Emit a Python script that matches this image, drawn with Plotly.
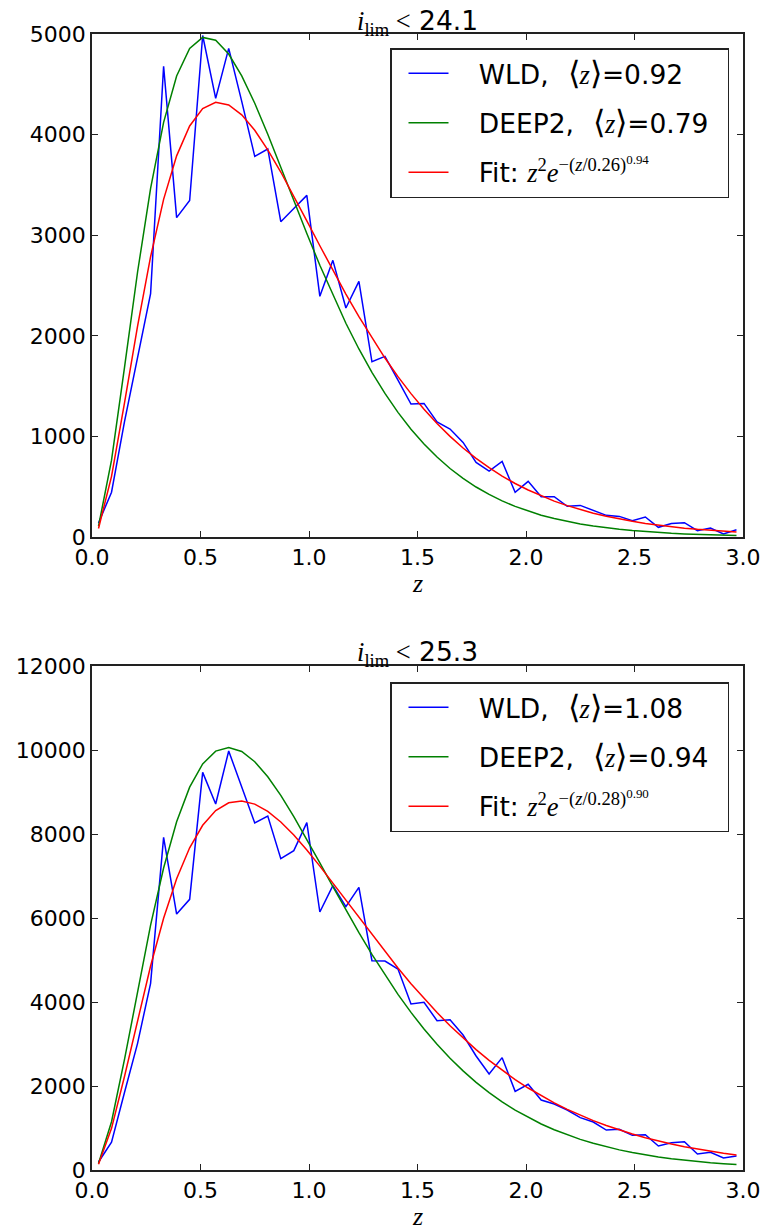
import plotly.graph_objects as go

# ---------------- data ----------------
z = [0.03, 0.09, 0.15, 0.21, 0.27, 0.33, 0.39, 0.45, 0.51, 0.57,
     0.63, 0.69, 0.75, 0.81, 0.87, 0.93, 0.99, 1.05, 1.11, 1.17,
     1.23, 1.29, 1.35, 1.41, 1.47, 1.53, 1.59, 1.65, 1.71, 1.77,
     1.83, 1.89, 1.95, 2.01, 2.07, 2.13, 2.19, 2.25, 2.31, 2.37,
     2.43, 2.49, 2.55, 2.61, 2.67, 2.73, 2.79, 2.85, 2.91, 2.97]

# panel 1: i_lim < 24.1
wld_241 = [140, 445, 1150, 1790, 2420, 4680, 3175, 3345, 4985, 4360,
           4857, 4330, 3783, 3857, 3134, 3265, 3396, 2392, 2750, 2276,
           2541, 1742, 1795, 1560, 1322, 1328, 1143, 1073, 940, 742,
           656, 752, 444, 553, 401, 401, 305, 314, 265, 215,
           205, 162, 199, 96, 135, 142, 63, 89, 30, 72]
deep2_241 = [107, 764, 1688, 2634, 3466, 4122, 4582, 4856, 4966, 4938,
             4801, 4584, 4312, 4004, 3676, 3343, 3016, 2701, 2404, 2125,
             1869, 1637, 1427, 1239, 1072, 924, 795, 681, 583, 497,
             423, 359, 304, 257, 217, 183, 154, 129, 109, 91,
             76, 64, 53, 44, 37, 31, 26, 21, 18, 15]
fit_241 = [85, 603, 1335, 2096, 2786, 3356, 3789, 4086, 4258, 4322,
           4295, 4196, 4043, 3849, 3628, 3389, 3143, 2895, 2651, 2415,
           2190, 1978, 1779, 1594, 1425, 1270, 1128, 1000, 885, 782,
           689, 606, 532, 467, 409, 357, 312, 272, 237, 206,
           179, 156, 135, 117, 102, 88, 76, 66, 57, 49]

# panel 2: i_lim < 25.3
wld_253 = [190, 665, 1850, 3016, 4444, 7921, 6095, 6445, 9468, 8714,
           9976, 9115, 8262, 8429, 7413, 7603, 8270, 6143, 6770, 6270,
           6730, 4984, 4976, 4786, 3952, 3992, 3556, 3579, 3214, 2714,
           2286, 2675, 1873, 2040, 1667, 1571, 1429, 1246, 1143, 952,
           968, 825, 841, 571, 651, 675, 381, 421, 286, 333]
deep2_253 = [155, 1150, 2639, 4271, 5829, 7190, 8292, 9116, 9669, 9973,
             10060, 9964, 9721, 9363, 8919, 8415, 7874, 7314, 6749, 6192,
             5651, 5133, 4641, 4181, 3752, 3356, 2993, 2661, 2360, 2088,
             1844, 1623, 1427, 1252, 1096, 959, 837, 729, 635, 552,
             479, 415, 360, 311, 269, 232, 200, 173, 148, 128]
fit_253 = [138, 991, 2232, 3575, 4858, 5992, 6934, 7671, 8208, 8558,
           8744, 8786, 8711, 8537, 8286, 7975, 7620, 7236, 6832, 6420,
           6006, 5595, 5195, 4808, 4436, 4084, 3749, 3434, 3139, 2865,
           2609, 2371, 2153, 1952, 1768, 1598, 1444, 1303, 1175, 1058,
           952, 856, 769, 690, 619, 555, 497, 445, 398, 356]

x_ticks = [0.0, 0.5, 1.0, 1.5, 2.0, 2.5, 3.0]
x_ticklabels = ["0.0", "0.5", "1.0", "1.5", "2.0", "2.5", "3.0"]
y_ticks_top = [0, 1000, 2000, 3000, 4000, 5000]
y_ticks_bot = [0, 2000, 4000, 6000, 8000, 10000, 12000]
mag_limits = ["24.1", "25.3"]
mean_wld = ["0.92", "1.08"]
mean_deep2 = ["0.79", "0.94"]
fit_scale = ["0.26", "0.28"]
fit_power = ["0.94", "0.90"]

# ---------------- styling ----------------
W, H = 764, 1230
SANS = "DejaVu Sans"
SERIF = "Liberation Serif"
FS_TICK = 22
FS_BIG = 26.5
BLUE, GREEN, RED = "#0000ff", "#008000", "#ff0000"
PAD = "\u00a0\u00a0\u00a0"
TAIL = "\u00a0\u2009"
TS = "\u2009"


def m(s):
    return f"<span style='font-family:{SERIF}'>{s}</span>"


def big(s):
    return f"<span style='font-family:{SERIF};font-size:32px'>{s}</span>"


def px_x(p):
    return p / W


def px_y(p):
    return 1 - p / H


# plot-area pixel boxes (left, right, top, bottom)
boxes = [(92, 743, 34, 537), (92, 743, 666, 1170)]
legend_tops = [48, 682]
title_centers = [22, 653]
xlabel_centers = [583, 1216]

fig = go.Figure()

panels = [
    (wld_241, deep2_241, fit_241, "legend"),
    (wld_253, deep2_253, fit_253, "legend2"),
]

for i, (wld, deep2, fit, leg) in enumerate(panels):
    xa = "x" if i == 0 else "x2"
    ya = "y" if i == 0 else "y2"
    zmean = TS + TS + big("⟨") + m("<i>z</i>") + big("⟩")
    names = [
        f"{PAD}WLD, {zmean}={mean_wld[i]}{TAIL}",
        f"{PAD}DEEP2, {zmean}={mean_deep2[i]}{TAIL}",
        f"{PAD}Fit: " + m(f"<i>z</i><sup>2</sup><i>e</i><sup>−(<i>z</i>/{fit_scale[i]})<sup>{fit_power[i]}</sup></sup>"),
    ]
    for j, (vals, col) in enumerate([(wld, BLUE), (deep2, GREEN), (fit, RED)]):
        fig.add_trace(go.Scatter(
            x=z, y=vals, mode="lines", name=names[j],
            line=dict(color=col, width=1.5),
            xaxis=xa, yaxis=ya, legend=leg,
            legendgroup=f"g{i}{j}",
        ))

axis_common = dict(
    showgrid=False, zeroline=False, showline=True, linecolor="#222",
    linewidth=1.8, mirror="allticks", ticks="inside", ticklen=6,
    tickwidth=1.3, tickcolor="#222", automargin=False,
    tickfont=dict(family=SANS, size=FS_TICK, color="black"),
)

layout = dict(
    template="none",
    width=W, height=H,
    margin=dict(l=0, r=0, t=0, b=0, autoexpand=False),
    paper_bgcolor="white", plot_bgcolor="white",
    showlegend=True,
    font=dict(family=SANS, color="black"),
)

for i, (l, r, t, b) in enumerate(boxes):
    sfx = "" if i == 0 else "2"
    yt = y_ticks_top if i == 0 else y_ticks_bot
    layout["xaxis" + sfx] = dict(
        axis_common, domain=[px_x(l), px_x(r)], range=[0, 3],
        tickvals=x_ticks, ticktext=x_ticklabels,
        anchor="y" + sfx,
    )
    layout["yaxis" + sfx] = dict(
        axis_common, domain=[px_y(b), px_y(t)], range=[0, yt[-1]],
        tickvals=yt, ticktext=[str(v) for v in yt],
        anchor="x" + sfx,
    )
    layout["legend" + sfx] = dict(
        x=px_x(729), y=px_y(legend_tops[i]), xanchor="right", yanchor="top",
        bgcolor="white", bordercolor="#222", borderwidth=1.5,
        font=dict(family=SANS, size=FS_BIG, color="black"),
        traceorder="grouped", tracegroupgap=12, itemwidth=40,
        indentation=12,
    )

fig.update_layout(**layout)

annotations = []
for i, (l, r, t, b) in enumerate(boxes):
    cx = px_x((l + r) / 2)
    annotations.append(dict(
        text=m("<i>i</i><sub>lim</sub> &lt;") + " " + mag_limits[i],
        x=cx, y=px_y(title_centers[i]), xref="paper", yref="paper",
        xanchor="center", yanchor="middle", showarrow=False,
        font=dict(family=SANS, size=FS_BIG, color="black"),
    ))
    annotations.append(dict(
        text=m("<i>z</i>"),
        x=cx, y=px_y(xlabel_centers[i]), xref="paper", yref="paper",
        xanchor="center", yanchor="middle", showarrow=False,
        font=dict(family=SERIF, size=26, color="black"),
    ))
fig.update_layout(annotations=annotations)

fig.write_html("out.html")
